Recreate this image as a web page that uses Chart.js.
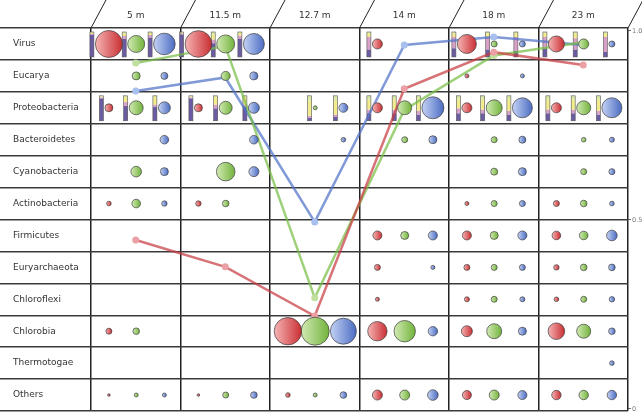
<!DOCTYPE html>
<html>
<head>
<meta charset="utf-8">
<script src="https://cdn.jsdelivr.net/npm/chart.js@4.4.1/dist/chart.umd.min.js"></script>
<style>
html, body { margin: 0; padding: 0; background: #fff; }
canvas { display: block; }
</style>
</head>
<body>
<canvas id="taxachart" width="642" height="412"></canvas>
<script>
const sites = ['5 m', '11.5 m', '12.7 m', '14 m', '18 m', '23 m'];
const taxa = ['Virus', 'Eucarya', 'Proteobacteria', 'Bacteroidetes', 'Cyanobacteria', 'Actinobacteria',
    'Firmicutes', 'Euryarchaeota', 'Chloroflexi', 'Chlorobia', 'Thermotogae', 'Others'];

// bubble size per taxon (rows) and site (columns), 0 = absent
const sizeRed = [
    [13.5, 13.3, 0, 5, 9.5, 8],
    [0, 0, 0, 0, 2, 0],
    [4, 4, 0, 5, 5, 5],
    [0, 0, 0, 0, 0, 0],
    [0, 0, 0, 0, 0, 0],
    [2.3, 2.7, 0, 0, 2, 3],
    [0, 0, 0, 4.5, 4.5, 4.3],
    [0, 0, 0, 3, 3, 2.7],
    [0, 0, 0, 2, 2.5, 2.3],
    [3, 0, 13.7, 9.7, 5.5, 8.3],
    [0, 0, 0, 0, 0, 0],
    [1.3, 1.3, 2.3, 5, 4.5, 4.7]
];
const sizeGreen = [
    [8.5, 9, 0, 0, 3, 5],
    [4, 4.5, 0, 0, 0, 0],
    [7, 6.5, 2, 7, 8, 7],
    [0, 0, 0, 3, 3, 2.3],
    [5.3, 9.3, 0, 0, 3.5, 3],
    [4.3, 3.3, 0, 0, 3, 3.3],
    [0, 0, 0, 4, 4, 4.3],
    [0, 0, 0, 0, 3, 3.3],
    [0, 0, 0, 0, 3, 3],
    [3.3, 0, 14, 10.7, 7.5, 7],
    [0, 0, 0, 0, 0, 0],
    [2, 3, 2, 5, 5, 4.7]
];
const sizeBlue = [
    [10.8, 10.5, 0, 0, 3, 3],
    [3.5, 4, 0, 0, 2, 0],
    [6, 5.5, 4.5, 11, 10, 10],
    [4.3, 4.3, 2.3, 4, 3.5, 2.5],
    [4, 5, 0, 0, 4, 3],
    [2.7, 0, 0, 0, 3, 2.3],
    [0, 0, 0, 4.5, 4.5, 5.3],
    [0, 0, 0, 2, 3, 3.3],
    [0, 0, 0, 0, 2.5, 2.7],
    [0, 0, 13, 4.7, 4, 3.3],
    [0, 0, 0, 0, 0, 2.3],
    [2, 3.3, 3.3, 5.3, 4.5, 4.7]
];

// line series on the right axis (0 - 1)
const lineRed = [0.447, 0.376, 0.246, 0.847, 0.944, 0.910];
const lineGreen = [0.915, 0.96, 0.294, 0.791, 0.935, 0.97];
const lineBlue = [0.841, 0.877, 0.495, 0.963, 0.984, 0.963];
const rightTicks = [0, 0.5, 1];

// composition bars beside bubbles: [purple, pink, yellow, lime] from the bottom
const virusBarsRed = [[.88, .04, .04, .04], [.9, .04, .03, .03], null, [.3, .5, .15, .05], [.35, .45, .15, .05], [.35, .45, .15, .05]];
const virusBarsGreen = [[.72, .12, .1, .06], [.55, .15, .2, .1], null, null, [.3, .5, .15, .05], [.3, .45, .2, .05]];
const virusBarsBlue = [[.78, .1, .08, .04], [.72, .14, .1, .04], null, null, [.25, .55, .15, .05], [.2, .6, .15, .05]];
const proteoBarsRed = [[.9, .04, .03, .03], [.9, .04, .03, .03], null, [.3, .15, .4, .15], [.3, .2, .35, .15], [.3, .15, .4, .15]];
const proteoBarsGreen = [[.6, .15, .2, .05], [.5, .15, .3, .05], [.12, .08, .6, .2], [.3, .15, .4, .15], [.3, .15, .4, .15], [.3, .15, .4, .15]];
const proteoBarsBlue = [[.55, .1, .3, .05], [.55, .1, .3, .05], [.15, .1, .55, .2], [.25, .15, .45, .15], [.25, .15, .45, .15], [.25, .15, .45, .15]];

// where the three bubbles sit inside a site column
const slot = [0.2, 0.505, 0.82];
const sizes = [sizeRed, sizeGreen, sizeBlue];
const fills = [['#f6b4b4', '#c92f33'], ['#d2eab4', '#72b33c'], ['#c4d2f4', '#4b6cc2']];
const stackColors = ['#6a5ba3', '#d9a1c7', '#f2ec8e', '#dde9a6'];
const barRows = [
    { row: 0, sets: [virusBarsRed, virusBarsGreen, virusBarsBlue] },
    { row: 2, sets: [proteoBarsRed, proteoBarsGreen, proteoBarsBlue] }
];
const labelFont = { family: 'DejaVu Sans', size: 9 };

function bubblePoints(size, k) {
    const pts = [];
    size.forEach((row, t) => row.forEach((r, s) => {
        if (r > 0) pts.push({ x: s + slot[k], y: taxa[t], r: r });
    }));
    return pts;
}

function gradientFill(k) {
    return (c) => {
        const xs = c.chart.scales && c.chart.scales.x;
        if (!c.raw || !xs) return fills[k][1];
        const px = xs.getPixelForValue(c.raw.x);
        if (!isFinite(px)) return fills[k][1];
        const g = c.chart.ctx.createLinearGradient(px - c.raw.r, 0, px + c.raw.r, 0);
        g.addColorStop(0, fills[k][0]);
        g.addColorStop(1, fills[k][1]);
        return g;
    };
}

function lineSet(values, color, pointColor) {
    return {
        type: 'line',
        data: values.map((v, i) => ({ x: i + 0.5, y: v })),
        xAxisID: 'x',
        yAxisID: 'y2',
        borderColor: color,
        borderWidth: 2.5,
        pointRadius: 3.5,
        pointBackgroundColor: pointColor,
        pointBorderWidth: 0,
        tension: 0,
        order: 1
    };
}

const stackBars = {
    id: 'stackBars',
    beforeDatasetsDraw(chart) {
        const { ctx, scales: { x, y } } = chart;
        const half = (y.getPixelForValue(1) - y.getPixelForValue(0)) / 2;
        ctx.save();
        barRows.forEach(({ row, sets }) => {
            const top = y.getPixelForValue(row) - half + 4;
            const bottom = y.getPixelForValue(row) + half - 3;
            sets.forEach((set, k) => {
                set.forEach((parts, s) => {
                    if (!parts) return;
                    const r = sizes[k][row][s];
                    const right = x.getPixelForValue(s + slot[k]) - r - 1.5;
                    let yb = bottom;
                    parts.forEach((f, j) => {
                        const h = f * (bottom - top);
                        ctx.fillStyle = stackColors[j];
                        ctx.fillRect(right - 4, yb - h, 4, h);
                        yb -= h;
                    });
                    ctx.strokeStyle = '#555';
                    ctx.lineWidth = 0.6;
                    ctx.strokeRect(right - 4, top, 4, bottom - top);
                });
            });
        });
        ctx.restore();
    }
};

const headerSlants = {
    id: 'headerSlants',
    afterDraw(chart) {
        const { ctx, chartArea, scales: { x } } = chart;
        ctx.save();
        ctx.strokeStyle = '#222';
        ctx.lineWidth = 1;
        for (let i = 0; i <= sites.length; i++) {
            const px = x.getPixelForValue(i);
            ctx.beginPath();
            ctx.moveTo(px, chartArea.top);
            ctx.lineTo(px + 15, 0);
            ctx.stroke();
        }
        ctx.restore();
    }
};

const ctx = document.getElementById('taxachart').getContext('2d');
const taxachart = new Chart(ctx, {
    type: 'bubble',
    data: {
        datasets: [
            ...sizes.map((size, k) => ({
                data: bubblePoints(size, k),
                xAxisID: 'x',
                yAxisID: 'y',
                backgroundColor: gradientFill(k),
                borderColor: '#3d3d3d',
                borderWidth: 0.7,
                order: 0
            })),
            lineSet(lineRed, 'rgba(200, 60, 65, 0.72)', '#eaa0a5'),
            lineSet(lineGreen, 'rgba(120, 190, 70, 0.72)', '#c0e0a0'),
            lineSet(lineBlue, 'rgba(80, 115, 200, 0.72)', '#a8c0ee')
        ]
    },
    options: {
        responsive: false,
        animation: false,
        layout: { autoPadding: false, padding: { left: 13, top: 0, right: 0, bottom: 1 } },
        plugins: { legend: { display: false }, tooltip: { enabled: false } },
        scales: {
            x: {
                type: 'linear',
                position: 'top',
                min: 0,
                max: sites.length,
                ticks: {
                    stepSize: 1,
                    labelOffset: 44.75,
                    padding: 7,
                    maxRotation: 0,
                    autoSkip: false,
                    color: '#333',
                    font: labelFont,
                    callback: (v) => sites[v] ?? ''
                },
                grid: { drawTicks: false, color: '#222', lineWidth: 1.5 },
                border: { display: false },
                afterFit: (s) => { s.height = 28; s.paddingLeft = 0; s.paddingRight = 0; }
            },
            y: {
                type: 'category',
                labels: taxa,
                offset: true,
                position: 'left',
                ticks: { crossAlign: 'far', color: '#333', font: labelFont },
                grid: { offset: true, color: '#3a3a3a', lineWidth: 1.5, tickLength: 91 },
                border: { display: false },
                afterFit: (s) => { s.width = 78; s.paddingTop = 0; s.paddingBottom = 0; }
            },
            y2: {
                type: 'linear',
                position: 'right',
                min: -0.0053,
                max: 1.0079,
                afterBuildTicks: (s) => { s.ticks = rightTicks.map((v) => ({ value: v })); },
                ticks: {
                    padding: 1,
                    color: '#777',
                    font: { family: 'DejaVu Sans', size: 6.5 },
                    callback: (v) => (v === 0 ? '0' : v.toFixed(1))
                },
                grid: { drawOnChartArea: false, tickLength: 3, color: '#444', lineWidth: 0.8 },
                border: { display: false },
                afterFit: (s) => { s.width = 14; s.paddingTop = 0; s.paddingBottom = 0; }
            }
        }
    },
    plugins: [stackBars, headerSlants]
});
</script>
</body>
</html>
